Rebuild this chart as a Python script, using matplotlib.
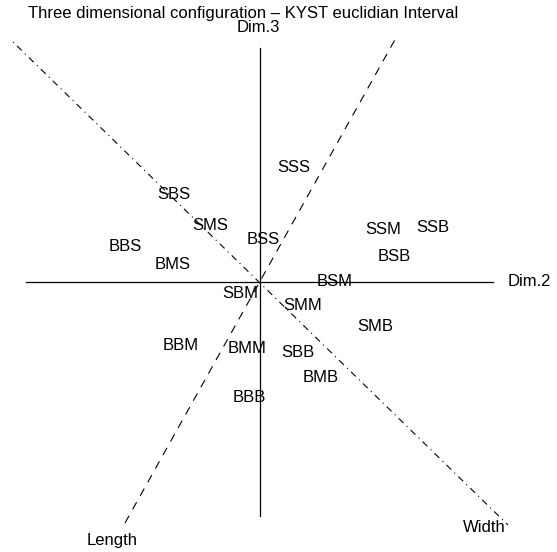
import numpy as np
import matplotlib.pyplot as plt

plt.rcParams['font.family'] = ['Liberation Sans', 'DejaVu Sans']

# configuratie: stimuli en hun coördinaten (Dim.2 horizontaal, Dim.3 verticaal)
stimuli = ['SSS', 'SBS', 'SMS', 'BSS', 'SSM', 'SSB', 'BSB', 'BBS', 'BMS',
           'BSM', 'SBM', 'SMM', 'SMB', 'BBM', 'BMM', 'SBB', 'BMB', 'BBB']
dim2 = [0.17, -0.43, -0.25, 0.015, 0.615, 0.865, 0.67, -0.675, -0.435,
        0.375, -0.10, 0.215, 0.575, -0.395, -0.065, 0.19, 0.305, -0.055]
dim3 = [0.57, 0.435, 0.28, 0.21, 0.26, 0.27, 0.125, 0.175, 0.085,
        0.0, -0.06, -0.12, -0.225, -0.32, -0.335, -0.355, -0.48, -0.58]

# projectie van Dim.1 (Length / Width) in het vlak
length_x = [-0.675, 0.685]
length_y = [-1.205, 1.23]
width_x = [-1.235, 1.24]
width_y = [1.2, -1.215]

fig = plt.figure(figsize=(5.57, 5.52), dpi=100)
ax = fig.add_axes([0, 0, 1, 1])
ax.set_xlim(-1.3, 1.485)
ax.set_ylim(-1.35, 1.41)
ax.axis('off')

# assen
ax.plot([-1.17, 1.165], [0, 0], color='black', lw=0.9)
ax.plot([0, 0], [-1.17, 1.17], color='black', lw=0.9)
ax.plot(length_x, length_y, color='black', lw=0.8, linestyle=(0, (7.5, 6.5)))
ax.plot(width_x, width_y, color='black', lw=0.8, linestyle=(0, (1, 4, 6, 4)))

fs = 12
for naam, x, y in zip(stimuli, dim2, dim3):
    ax.text(x, y, naam, ha='center', va='center', fontsize=fs)

ax.text(1.24, 0.0, 'Dim.2', ha='left', va='center', fontsize=fs)
ax.text(-0.01, 1.27, 'Dim.3', ha='center', va='center', fontsize=fs)
ax.text(-0.74, -1.29, 'Length', ha='center', va='center', fontsize=fs)
ax.text(1.12, -1.225, 'Width', ha='center', va='center', fontsize=fs)

fig.text(0.437, 0.975, 'Three dimensional configuration \u2013 KYST euclidian Interval',
         ha='center', va='center', fontsize=fs)

fig.savefig('out.png', dpi=100)
